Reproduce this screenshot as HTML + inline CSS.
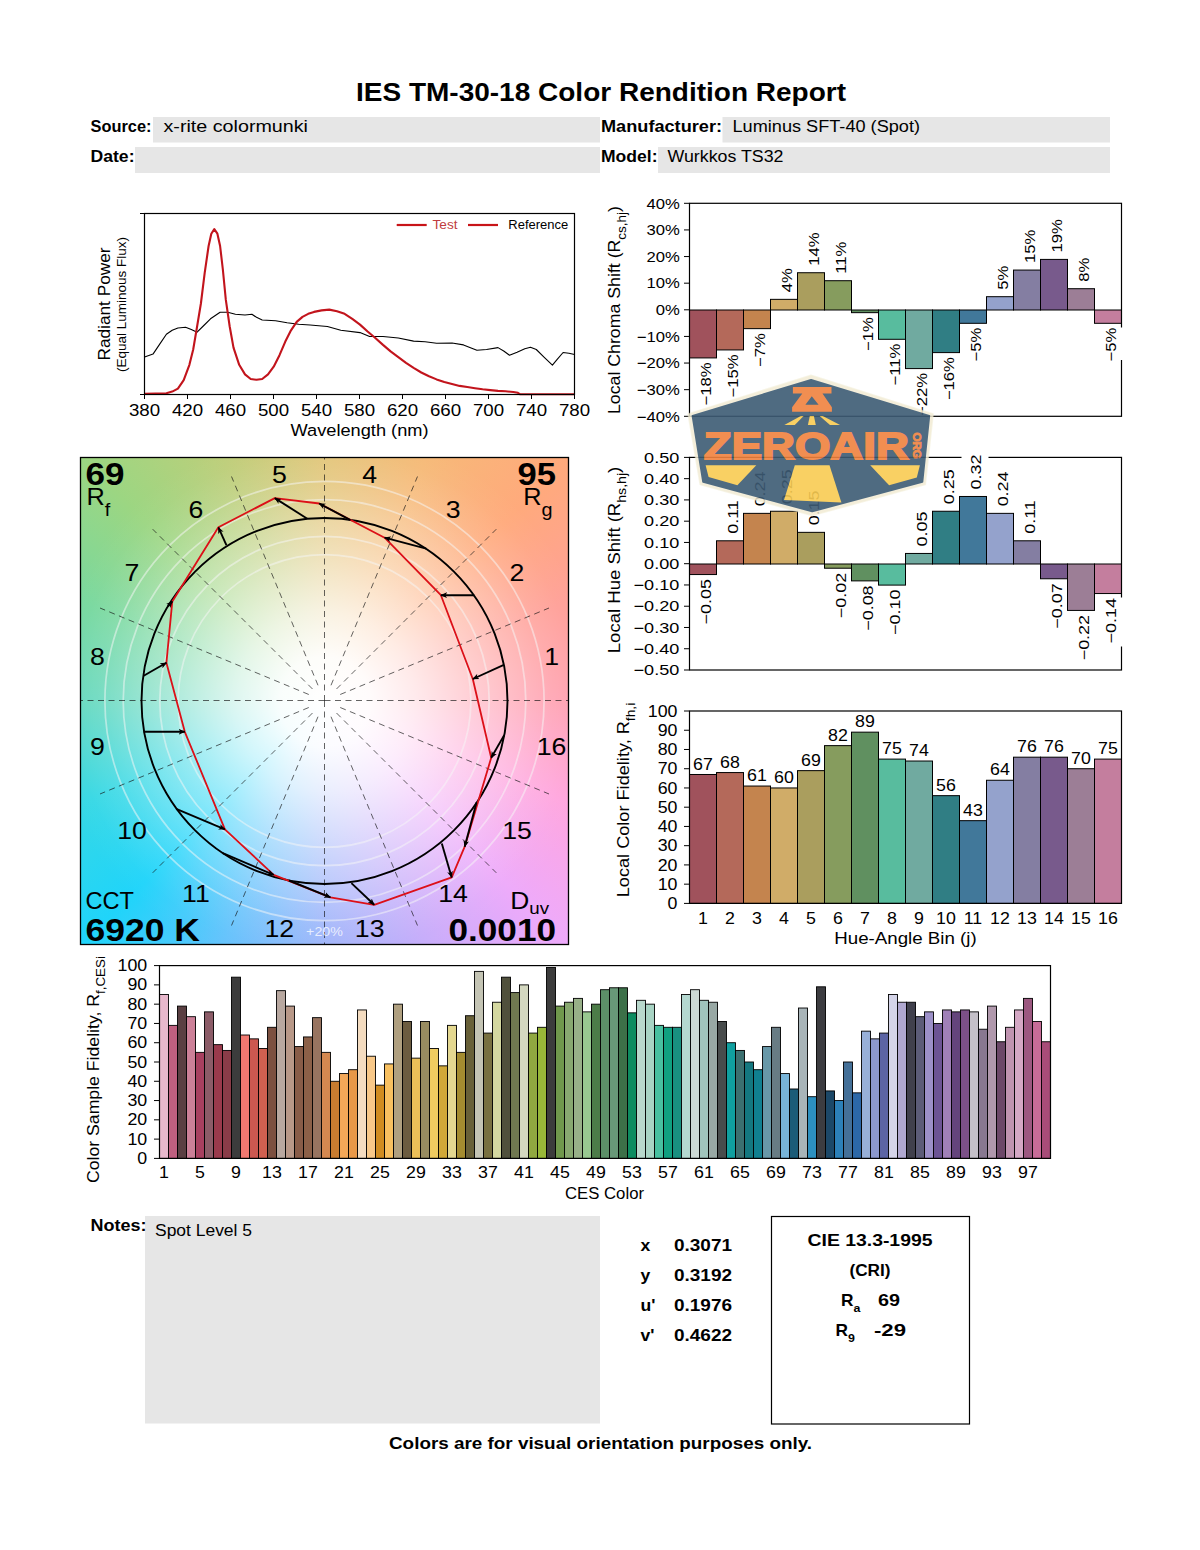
<!DOCTYPE html>
<html><head><meta charset="utf-8"><title>IES TM-30-18 Color Rendition Report</title>
<style>
html,body{margin:0;padding:0;background:#fff;}
body{width:1200px;height:1550px;position:relative;overflow:hidden;font-family:"Liberation Sans",sans-serif;}
#cvgbg{position:absolute;left:80.5px;top:457.5px;width:488px;height:487px;
background:radial-gradient(circle at 50% 50%, rgba(255,255,255,1) 0px, rgba(255,255,255,0.96) 45px, rgba(255,255,255,0.78) 90px, rgba(255,255,255,0.53) 140px, rgba(255,255,255,0.32) 183px, rgba(255,255,255,0.12) 225px, rgba(255,255,255,0.03) 252px, rgba(255,255,255,0) 275px), conic-gradient(from 90deg at 50% 50%, rgb(255,160,176) 0.0deg, rgb(255,166,222) 22.5deg, rgb(238,170,250) 45.0deg, rgb(198,172,250) 67.5deg, rgb(156,178,250) 90.0deg, rgb(100,194,252) 112.5deg, rgb(32,212,250) 135.0deg, rgb(54,216,228) 157.5deg, rgb(100,216,190) 180.0deg, rgb(120,216,158) 202.5deg, rgb(156,214,130) 225.0deg, rgb(190,206,122) 247.5deg, rgb(226,197,120) 270.0deg, rgb(246,186,120) 292.5deg, rgb(255,170,124) 315.0deg, rgb(255,160,152) 337.5deg, rgb(255,160,176) 360.0deg);}
svg{position:absolute;left:0;top:0;}
svg text{font-family:"Liberation Sans",sans-serif;}
</style></head><body>
<div id="cvgbg"></div>
<svg width="1200" height="1550" viewBox="0 0 1200 1550">
<rect x="153.00" y="117.00" width="447.00" height="25.50" fill="#e6e6e6" stroke="none" stroke-width="1"/>
<rect x="135.00" y="147.00" width="465.00" height="26.00" fill="#e6e6e6" stroke="none" stroke-width="1"/>
<rect x="722.50" y="117.00" width="387.50" height="25.50" fill="#e6e6e6" stroke="none" stroke-width="1"/>
<rect x="658.00" y="147.00" width="452.00" height="26.00" fill="#e6e6e6" stroke="none" stroke-width="1"/>
<text transform="translate(601.00,100.80)" font-size="25.2" text-anchor="middle" font-weight="bold" fill="#000" textLength="490" lengthAdjust="spacingAndGlyphs">IES TM-30-18 Color Rendition Report</text>
<text transform="translate(90.50,132.00)" font-size="16.7" text-anchor="start" font-weight="bold" fill="#000" textLength="61" lengthAdjust="spacingAndGlyphs">Source:</text>
<text transform="translate(163.50,132.00)" font-size="16.7" text-anchor="start" font-weight="normal" fill="#000" textLength="144.5" lengthAdjust="spacingAndGlyphs">x-rite colormunki</text>
<text transform="translate(90.50,162.00)" font-size="16.7" text-anchor="start" font-weight="bold" fill="#000" textLength="44" lengthAdjust="spacingAndGlyphs">Date:</text>
<text transform="translate(601.00,132.00)" font-size="16.7" text-anchor="start" font-weight="bold" fill="#000" textLength="121" lengthAdjust="spacingAndGlyphs">Manufacturer:</text>
<text transform="translate(732.50,132.00)" font-size="16.7" text-anchor="start" font-weight="normal" fill="#000" textLength="187.5" lengthAdjust="spacingAndGlyphs">Luminus SFT-40 (Spot)</text>
<text transform="translate(601.00,162.00)" font-size="16.7" text-anchor="start" font-weight="bold" fill="#000" textLength="56.5" lengthAdjust="spacingAndGlyphs">Model:</text>
<text transform="translate(667.50,162.00)" font-size="16.7" text-anchor="start" font-weight="normal" fill="#000" textLength="116" lengthAdjust="spacingAndGlyphs">Wurkkos TS32</text>
<polyline points="144.6,357.1 153.0,354.1 158.7,345.6 166.4,334.2 172.2,330.3 177.9,328.0 185.6,327.3 191.3,329.6 197.1,332.2 202.8,326.5 210.5,318.8 220.1,312.3 227.7,312.3 235.4,314.2 245.0,315.0 251.9,314.2 256.5,317.3 262.2,320.0 275.6,320.7 287.1,322.7 298.6,324.2 310.1,325.0 327.4,326.5 340.8,330.3 360.0,332.6 369.6,336.5 383.0,336.5 398.3,338.0 413.6,341.1 425.1,341.8 436.6,343.3 452.0,343.0 463.5,344.9 471.1,347.9 476.9,350.2 486.5,349.5 498.0,347.6 503.7,351.0 509.5,355.2 517.1,352.2 524.8,348.7 530.5,347.2 536.3,349.5 544.0,357.1 552.4,365.2 557.4,359.1 563.1,352.5 568.9,353.3 574.6,354.5" fill="none" stroke="#000" stroke-width="1.1" stroke-linejoin="round"/>
<polyline points="144.6,393.9 166.4,393.2 172.2,391.6 177.9,388.6 183.7,380.1 189.4,364.8 193.2,349.5 197.1,326.5 200.9,303.5 204.7,272.8 208.6,246.0 211.3,233.7 214.3,229.1 217.4,233.7 220.1,246.0 222.8,269.0 225.8,299.7 229.7,326.5 233.5,347.6 239.2,364.8 245.0,374.4 250.7,379.0 256.5,379.8 262.2,379.0 268.0,374.4 273.7,366.7 279.5,355.2 285.2,341.8 291.0,330.3 296.7,321.9 302.5,316.9 308.2,313.8 314.0,311.9 321.6,310.4 329.3,309.6 337.0,311.2 344.6,313.8 352.3,318.8 360.0,324.6 367.6,331.5 375.3,338.0 383.0,344.9 390.6,351.4 398.3,357.1 406.0,362.9 413.6,367.9 421.3,372.5 429.0,376.3 436.6,379.4 444.3,382.1 452.0,384.0 459.6,385.9 467.3,387.0 475.0,388.2 482.6,389.3 490.3,390.1 498.0,390.9 505.6,391.3 513.3,392.0 517.9,392.8 520.2,394.3 574.6,394.3" fill="none" stroke="#c2141c" stroke-width="2.1" stroke-linejoin="round"/>
<rect x="144.50" y="213.50" width="430.00" height="181.00" fill="none" stroke="#000" stroke-width="1.2"/>
<line x1="144.50" y1="394.50" x2="144.50" y2="399.00" stroke="#000" stroke-width="1"/>
<text transform="translate(144.50,415.80) scale(1.12,1)" font-size="16.7" text-anchor="middle" font-weight="normal" fill="#000">380</text>
<line x1="187.50" y1="394.50" x2="187.50" y2="399.00" stroke="#000" stroke-width="1"/>
<text transform="translate(187.50,415.80) scale(1.12,1)" font-size="16.7" text-anchor="middle" font-weight="normal" fill="#000">420</text>
<line x1="230.50" y1="394.50" x2="230.50" y2="399.00" stroke="#000" stroke-width="1"/>
<text transform="translate(230.50,415.80) scale(1.12,1)" font-size="16.7" text-anchor="middle" font-weight="normal" fill="#000">460</text>
<line x1="273.50" y1="394.50" x2="273.50" y2="399.00" stroke="#000" stroke-width="1"/>
<text transform="translate(273.50,415.80) scale(1.12,1)" font-size="16.7" text-anchor="middle" font-weight="normal" fill="#000">500</text>
<line x1="316.50" y1="394.50" x2="316.50" y2="399.00" stroke="#000" stroke-width="1"/>
<text transform="translate(316.50,415.80) scale(1.12,1)" font-size="16.7" text-anchor="middle" font-weight="normal" fill="#000">540</text>
<line x1="359.50" y1="394.50" x2="359.50" y2="399.00" stroke="#000" stroke-width="1"/>
<text transform="translate(359.50,415.80) scale(1.12,1)" font-size="16.7" text-anchor="middle" font-weight="normal" fill="#000">580</text>
<line x1="402.50" y1="394.50" x2="402.50" y2="399.00" stroke="#000" stroke-width="1"/>
<text transform="translate(402.50,415.80) scale(1.12,1)" font-size="16.7" text-anchor="middle" font-weight="normal" fill="#000">620</text>
<line x1="445.50" y1="394.50" x2="445.50" y2="399.00" stroke="#000" stroke-width="1"/>
<text transform="translate(445.50,415.80) scale(1.12,1)" font-size="16.7" text-anchor="middle" font-weight="normal" fill="#000">660</text>
<line x1="488.50" y1="394.50" x2="488.50" y2="399.00" stroke="#000" stroke-width="1"/>
<text transform="translate(488.50,415.80) scale(1.12,1)" font-size="16.7" text-anchor="middle" font-weight="normal" fill="#000">700</text>
<line x1="531.50" y1="394.50" x2="531.50" y2="399.00" stroke="#000" stroke-width="1"/>
<text transform="translate(531.50,415.80) scale(1.12,1)" font-size="16.7" text-anchor="middle" font-weight="normal" fill="#000">740</text>
<line x1="574.50" y1="394.50" x2="574.50" y2="399.00" stroke="#000" stroke-width="1"/>
<text transform="translate(574.50,415.80) scale(1.12,1)" font-size="16.7" text-anchor="middle" font-weight="normal" fill="#000">780</text>
<line x1="140.00" y1="213.50" x2="144.50" y2="213.50" stroke="#000" stroke-width="1"/>
<line x1="140.00" y1="394.50" x2="144.50" y2="394.50" stroke="#000" stroke-width="1"/>
<text transform="translate(359.50,436.00)" font-size="16.7" text-anchor="middle" font-weight="normal" fill="#000" textLength="138" lengthAdjust="spacingAndGlyphs">Wavelength (nm)</text>
<text transform="translate(110.30,304.00) rotate(-90)" font-size="16.7" text-anchor="middle" font-weight="normal" fill="#000" textLength="113" lengthAdjust="spacingAndGlyphs">Radiant Power</text>
<text transform="translate(126.00,304.50) rotate(-90)" font-size="12.5" text-anchor="middle" font-weight="normal" fill="#000" textLength="135" lengthAdjust="spacingAndGlyphs">(Equal Luminous Flux)</text>
<line x1="396.70" y1="225.00" x2="426.70" y2="225.00" stroke="#c81418" stroke-width="2.2"/>
<line x1="468.00" y1="225.00" x2="498.00" y2="225.00" stroke="#c81418" stroke-width="2.2"/>
<text transform="translate(432.50,228.80)" font-size="12.5" text-anchor="start" font-weight="normal" fill="#c03c40" textLength="25" lengthAdjust="spacingAndGlyphs">Test</text>
<text transform="translate(508.30,228.80)" font-size="12.5" text-anchor="start" font-weight="normal" fill="#000" textLength="60" lengthAdjust="spacingAndGlyphs">Reference</text>
<rect x="689.50" y="310.00" width="27.00" height="47.92" fill="#a0525c" stroke="#000" stroke-width="1"/>
<rect x="716.50" y="310.00" width="27.00" height="39.94" fill="#b4695a" stroke="#000" stroke-width="1"/>
<rect x="743.50" y="310.00" width="27.00" height="18.64" fill="#c4844e" stroke="#000" stroke-width="1"/>
<rect x="770.50" y="299.35" width="27.00" height="10.65" fill="#d0ac68" stroke="#000" stroke-width="1"/>
<rect x="797.50" y="272.73" width="27.00" height="37.27" fill="#aa9e5e" stroke="#000" stroke-width="1"/>
<rect x="824.50" y="280.71" width="27.00" height="29.29" fill="#869c5e" stroke="#000" stroke-width="1"/>
<rect x="851.50" y="310.00" width="27.00" height="2.66" fill="#609060" stroke="#000" stroke-width="1"/>
<rect x="878.50" y="310.00" width="27.00" height="29.29" fill="#58bc9e" stroke="#000" stroke-width="1"/>
<rect x="905.50" y="310.00" width="27.00" height="58.58" fill="#70aaa0" stroke="#000" stroke-width="1"/>
<rect x="932.50" y="310.00" width="27.00" height="42.60" fill="#307e84" stroke="#000" stroke-width="1"/>
<rect x="959.50" y="310.00" width="27.00" height="13.31" fill="#41789a" stroke="#000" stroke-width="1"/>
<rect x="986.50" y="296.69" width="27.00" height="13.31" fill="#94a2cc" stroke="#000" stroke-width="1"/>
<rect x="1013.50" y="270.06" width="27.00" height="39.94" fill="#847ea2" stroke="#000" stroke-width="1"/>
<rect x="1040.50" y="259.41" width="27.00" height="50.59" fill="#785a8c" stroke="#000" stroke-width="1"/>
<rect x="1067.50" y="288.70" width="27.00" height="21.30" fill="#9c7e96" stroke="#000" stroke-width="1"/>
<rect x="1094.50" y="310.00" width="27.00" height="13.31" fill="#c47e9e" stroke="#000" stroke-width="1"/>
<rect x="689.50" y="203.30" width="432.00" height="213.00" fill="none" stroke="#000" stroke-width="1.2"/>
<rect x="1119.50" y="327.50" width="4.00" height="32.50" fill="#fff" stroke="none" stroke-width="1"/>
<line x1="684.00" y1="203.30" x2="689.50" y2="203.30" stroke="#000" stroke-width="1"/>
<text transform="translate(679.80,208.50) scale(1.14,1)" font-size="14.6" text-anchor="end" font-weight="normal" fill="#000">40%</text>
<line x1="684.00" y1="229.93" x2="689.50" y2="229.93" stroke="#000" stroke-width="1"/>
<text transform="translate(679.80,235.12) scale(1.14,1)" font-size="14.6" text-anchor="end" font-weight="normal" fill="#000">30%</text>
<line x1="684.00" y1="256.55" x2="689.50" y2="256.55" stroke="#000" stroke-width="1"/>
<text transform="translate(679.80,261.75) scale(1.14,1)" font-size="14.6" text-anchor="end" font-weight="normal" fill="#000">20%</text>
<line x1="684.00" y1="283.18" x2="689.50" y2="283.18" stroke="#000" stroke-width="1"/>
<text transform="translate(679.80,288.38) scale(1.14,1)" font-size="14.6" text-anchor="end" font-weight="normal" fill="#000">10%</text>
<line x1="684.00" y1="309.80" x2="689.50" y2="309.80" stroke="#000" stroke-width="1"/>
<text transform="translate(679.80,315.00) scale(1.14,1)" font-size="14.6" text-anchor="end" font-weight="normal" fill="#000">0%</text>
<line x1="684.00" y1="336.43" x2="689.50" y2="336.43" stroke="#000" stroke-width="1"/>
<text transform="translate(679.80,341.62) scale(1.14,1)" font-size="14.6" text-anchor="end" font-weight="normal" fill="#000">−10%</text>
<line x1="684.00" y1="363.05" x2="689.50" y2="363.05" stroke="#000" stroke-width="1"/>
<text transform="translate(679.80,368.25) scale(1.14,1)" font-size="14.6" text-anchor="end" font-weight="normal" fill="#000">−20%</text>
<line x1="684.00" y1="389.68" x2="689.50" y2="389.68" stroke="#000" stroke-width="1"/>
<text transform="translate(679.80,394.88) scale(1.14,1)" font-size="14.6" text-anchor="end" font-weight="normal" fill="#000">−30%</text>
<line x1="684.00" y1="416.30" x2="689.50" y2="416.30" stroke="#000" stroke-width="1"/>
<text transform="translate(679.80,421.50) scale(1.14,1)" font-size="14.6" text-anchor="end" font-weight="normal" fill="#000">−40%</text>
<rect x="697.80" y="361.43" width="16.00" height="35.80" fill="#fff" stroke="none" stroke-width="1"/>
<text transform="translate(710.80,362.43) rotate(-90) scale(1.14,1)" font-size="14.6" text-anchor="end" font-weight="normal" fill="#000">−18%</text>
<rect x="724.80" y="353.44" width="16.00" height="35.80" fill="#fff" stroke="none" stroke-width="1"/>
<text transform="translate(737.80,354.44) rotate(-90) scale(1.14,1)" font-size="14.6" text-anchor="end" font-weight="normal" fill="#000">−15%</text>
<rect x="751.80" y="332.14" width="16.00" height="27.60" fill="#fff" stroke="none" stroke-width="1"/>
<text transform="translate(764.80,333.14) rotate(-90) scale(1.14,1)" font-size="14.6" text-anchor="end" font-weight="normal" fill="#000">−7%</text>
<rect x="778.80" y="273.95" width="16.00" height="20.40" fill="#fff" stroke="none" stroke-width="1"/>
<text transform="translate(791.80,292.35) rotate(-90) scale(1.14,1)" font-size="14.6" text-anchor="start" font-weight="normal" fill="#000">4%</text>
<rect x="805.80" y="239.13" width="16.00" height="28.60" fill="#fff" stroke="none" stroke-width="1"/>
<text transform="translate(818.80,265.73) rotate(-90) scale(1.14,1)" font-size="14.6" text-anchor="start" font-weight="normal" fill="#000">14%</text>
<rect x="832.80" y="247.11" width="16.00" height="28.60" fill="#fff" stroke="none" stroke-width="1"/>
<text transform="translate(845.80,273.71) rotate(-90) scale(1.14,1)" font-size="14.6" text-anchor="start" font-weight="normal" fill="#000">11%</text>
<rect x="859.80" y="316.16" width="16.00" height="27.60" fill="#fff" stroke="none" stroke-width="1"/>
<text transform="translate(872.80,317.16) rotate(-90) scale(1.14,1)" font-size="14.6" text-anchor="end" font-weight="normal" fill="#000">−1%</text>
<rect x="886.80" y="342.79" width="16.00" height="35.80" fill="#fff" stroke="none" stroke-width="1"/>
<text transform="translate(899.80,343.79) rotate(-90) scale(1.14,1)" font-size="14.6" text-anchor="end" font-weight="normal" fill="#000">−11%</text>
<rect x="913.80" y="372.07" width="16.00" height="35.80" fill="#fff" stroke="none" stroke-width="1"/>
<text transform="translate(926.80,373.07) rotate(-90) scale(1.14,1)" font-size="14.6" text-anchor="end" font-weight="normal" fill="#000">−22%</text>
<rect x="940.80" y="356.10" width="16.00" height="35.80" fill="#fff" stroke="none" stroke-width="1"/>
<text transform="translate(953.80,357.10) rotate(-90) scale(1.14,1)" font-size="14.6" text-anchor="end" font-weight="normal" fill="#000">−16%</text>
<rect x="967.80" y="326.81" width="16.00" height="27.60" fill="#fff" stroke="none" stroke-width="1"/>
<text transform="translate(980.80,327.81) rotate(-90) scale(1.14,1)" font-size="14.6" text-anchor="end" font-weight="normal" fill="#000">−5%</text>
<rect x="994.80" y="271.29" width="16.00" height="20.40" fill="#fff" stroke="none" stroke-width="1"/>
<text transform="translate(1007.80,289.69) rotate(-90) scale(1.14,1)" font-size="14.6" text-anchor="start" font-weight="normal" fill="#000">5%</text>
<rect x="1021.80" y="236.46" width="16.00" height="28.60" fill="#fff" stroke="none" stroke-width="1"/>
<text transform="translate(1034.80,263.06) rotate(-90) scale(1.14,1)" font-size="14.6" text-anchor="start" font-weight="normal" fill="#000">15%</text>
<rect x="1048.80" y="225.81" width="16.00" height="28.60" fill="#fff" stroke="none" stroke-width="1"/>
<text transform="translate(1061.80,252.41) rotate(-90) scale(1.14,1)" font-size="14.6" text-anchor="start" font-weight="normal" fill="#000">19%</text>
<rect x="1075.80" y="263.30" width="16.00" height="20.40" fill="#fff" stroke="none" stroke-width="1"/>
<text transform="translate(1088.80,281.70) rotate(-90) scale(1.14,1)" font-size="14.6" text-anchor="start" font-weight="normal" fill="#000">8%</text>
<rect x="1102.80" y="326.81" width="16.00" height="27.60" fill="#fff" stroke="none" stroke-width="1"/>
<text transform="translate(1115.80,327.81) rotate(-90) scale(1.14,1)" font-size="14.6" text-anchor="end" font-weight="normal" fill="#000">−5%</text>
<text transform="translate(620.00,310.00) rotate(-90)" font-size="16.7" text-anchor="middle" font-weight="normal" fill="#000" textLength="208" lengthAdjust="spacingAndGlyphs">Local Chroma Shift (R<tspan font-size="12.7" dy="6.0">cs,hj</tspan><tspan dy="-6.0">)</tspan></text>
<rect x="689.50" y="564.00" width="27.00" height="10.55" fill="#a0525c" stroke="#000" stroke-width="1"/>
<rect x="716.50" y="540.79" width="27.00" height="23.21" fill="#b4695a" stroke="#000" stroke-width="1"/>
<rect x="743.50" y="513.36" width="27.00" height="50.64" fill="#c4844e" stroke="#000" stroke-width="1"/>
<rect x="770.50" y="511.25" width="27.00" height="52.75" fill="#d0ac68" stroke="#000" stroke-width="1"/>
<rect x="797.50" y="532.35" width="27.00" height="31.65" fill="#aa9e5e" stroke="#000" stroke-width="1"/>
<rect x="824.50" y="564.00" width="27.00" height="4.22" fill="#869c5e" stroke="#000" stroke-width="1"/>
<rect x="851.50" y="564.00" width="27.00" height="16.88" fill="#609060" stroke="#000" stroke-width="1"/>
<rect x="878.50" y="564.00" width="27.00" height="21.10" fill="#58bc9e" stroke="#000" stroke-width="1"/>
<rect x="905.50" y="553.45" width="27.00" height="10.55" fill="#70aaa0" stroke="#000" stroke-width="1"/>
<rect x="932.50" y="511.25" width="27.00" height="52.75" fill="#307e84" stroke="#000" stroke-width="1"/>
<rect x="959.50" y="496.48" width="27.00" height="67.52" fill="#41789a" stroke="#000" stroke-width="1"/>
<rect x="986.50" y="513.36" width="27.00" height="50.64" fill="#94a2cc" stroke="#000" stroke-width="1"/>
<rect x="1013.50" y="540.79" width="27.00" height="23.21" fill="#847ea2" stroke="#000" stroke-width="1"/>
<rect x="1040.50" y="564.00" width="27.00" height="14.77" fill="#785a8c" stroke="#000" stroke-width="1"/>
<rect x="1067.50" y="564.00" width="27.00" height="46.42" fill="#9c7e96" stroke="#000" stroke-width="1"/>
<rect x="1094.50" y="564.00" width="27.00" height="29.54" fill="#c47e9e" stroke="#000" stroke-width="1"/>
<rect x="689.50" y="457.40" width="432.00" height="212.60" fill="none" stroke="#000" stroke-width="1.2"/>
<rect x="1119.50" y="597.50" width="4.00" height="49.00" fill="#fff" stroke="none" stroke-width="1"/>
<rect x="961.50" y="455.00" width="27.00" height="4.00" fill="#fff" stroke="none" stroke-width="1"/>
<line x1="684.00" y1="457.40" x2="689.50" y2="457.40" stroke="#000" stroke-width="1"/>
<text transform="translate(679.30,462.60) scale(1.24,1)" font-size="14.6" text-anchor="end" font-weight="normal" fill="#000">0.50</text>
<line x1="684.00" y1="478.66" x2="689.50" y2="478.66" stroke="#000" stroke-width="1"/>
<text transform="translate(679.30,483.86) scale(1.24,1)" font-size="14.6" text-anchor="end" font-weight="normal" fill="#000">0.40</text>
<line x1="684.00" y1="499.92" x2="689.50" y2="499.92" stroke="#000" stroke-width="1"/>
<text transform="translate(679.30,505.12) scale(1.24,1)" font-size="14.6" text-anchor="end" font-weight="normal" fill="#000">0.30</text>
<line x1="684.00" y1="521.18" x2="689.50" y2="521.18" stroke="#000" stroke-width="1"/>
<text transform="translate(679.30,526.38) scale(1.24,1)" font-size="14.6" text-anchor="end" font-weight="normal" fill="#000">0.20</text>
<line x1="684.00" y1="542.44" x2="689.50" y2="542.44" stroke="#000" stroke-width="1"/>
<text transform="translate(679.30,547.64) scale(1.24,1)" font-size="14.6" text-anchor="end" font-weight="normal" fill="#000">0.10</text>
<line x1="684.00" y1="563.70" x2="689.50" y2="563.70" stroke="#000" stroke-width="1"/>
<text transform="translate(679.30,568.90) scale(1.24,1)" font-size="14.6" text-anchor="end" font-weight="normal" fill="#000">0.00</text>
<line x1="684.00" y1="584.96" x2="689.50" y2="584.96" stroke="#000" stroke-width="1"/>
<text transform="translate(679.30,590.16) scale(1.24,1)" font-size="14.6" text-anchor="end" font-weight="normal" fill="#000">−0.10</text>
<line x1="684.00" y1="606.22" x2="689.50" y2="606.22" stroke="#000" stroke-width="1"/>
<text transform="translate(679.30,611.42) scale(1.24,1)" font-size="14.6" text-anchor="end" font-weight="normal" fill="#000">−0.20</text>
<line x1="684.00" y1="627.48" x2="689.50" y2="627.48" stroke="#000" stroke-width="1"/>
<text transform="translate(679.30,632.68) scale(1.24,1)" font-size="14.6" text-anchor="end" font-weight="normal" fill="#000">−0.30</text>
<line x1="684.00" y1="648.74" x2="689.50" y2="648.74" stroke="#000" stroke-width="1"/>
<text transform="translate(679.30,653.94) scale(1.24,1)" font-size="14.6" text-anchor="end" font-weight="normal" fill="#000">−0.40</text>
<line x1="684.00" y1="670.00" x2="689.50" y2="670.00" stroke="#000" stroke-width="1"/>
<text transform="translate(679.30,675.20) scale(1.24,1)" font-size="14.6" text-anchor="end" font-weight="normal" fill="#000">−0.50</text>
<rect x="697.80" y="578.05" width="16.00" height="47.24" fill="#fff" stroke="none" stroke-width="1"/>
<text transform="translate(710.80,579.05) rotate(-90) scale(1.23,1)" font-size="14.6" text-anchor="end" font-weight="normal" fill="#000">−0.05</text>
<rect x="724.80" y="496.40" width="16.00" height="39.39" fill="#fff" stroke="none" stroke-width="1"/>
<text transform="translate(737.80,533.79) rotate(-90) scale(1.23,1)" font-size="14.6" text-anchor="start" font-weight="normal" fill="#000">0.11</text>
<rect x="751.80" y="468.97" width="16.00" height="39.39" fill="#fff" stroke="none" stroke-width="1"/>
<text transform="translate(764.80,506.36) rotate(-90) scale(1.23,1)" font-size="14.6" text-anchor="start" font-weight="normal" fill="#000">0.24</text>
<rect x="778.80" y="466.86" width="16.00" height="39.39" fill="#fff" stroke="none" stroke-width="1"/>
<text transform="translate(791.80,504.25) rotate(-90) scale(1.23,1)" font-size="14.6" text-anchor="start" font-weight="normal" fill="#000">0.25</text>
<rect x="805.80" y="487.96" width="16.00" height="39.39" fill="#fff" stroke="none" stroke-width="1"/>
<text transform="translate(818.80,525.35) rotate(-90) scale(1.23,1)" font-size="14.6" text-anchor="start" font-weight="normal" fill="#000">0.15</text>
<rect x="832.80" y="571.72" width="16.00" height="47.24" fill="#fff" stroke="none" stroke-width="1"/>
<text transform="translate(845.80,572.72) rotate(-90) scale(1.23,1)" font-size="14.6" text-anchor="end" font-weight="normal" fill="#000">−0.02</text>
<rect x="859.80" y="584.38" width="16.00" height="47.24" fill="#fff" stroke="none" stroke-width="1"/>
<text transform="translate(872.80,585.38) rotate(-90) scale(1.23,1)" font-size="14.6" text-anchor="end" font-weight="normal" fill="#000">−0.08</text>
<rect x="886.80" y="588.60" width="16.00" height="47.24" fill="#fff" stroke="none" stroke-width="1"/>
<text transform="translate(899.80,589.60) rotate(-90) scale(1.23,1)" font-size="14.6" text-anchor="end" font-weight="normal" fill="#000">−0.10</text>
<rect x="913.80" y="509.06" width="16.00" height="39.39" fill="#fff" stroke="none" stroke-width="1"/>
<text transform="translate(926.80,546.45) rotate(-90) scale(1.23,1)" font-size="14.6" text-anchor="start" font-weight="normal" fill="#000">0.05</text>
<rect x="940.80" y="466.86" width="16.00" height="39.39" fill="#fff" stroke="none" stroke-width="1"/>
<text transform="translate(953.80,504.25) rotate(-90) scale(1.23,1)" font-size="14.6" text-anchor="start" font-weight="normal" fill="#000">0.25</text>
<rect x="967.80" y="452.09" width="16.00" height="39.39" fill="#fff" stroke="none" stroke-width="1"/>
<text transform="translate(980.80,489.48) rotate(-90) scale(1.23,1)" font-size="14.6" text-anchor="start" font-weight="normal" fill="#000">0.32</text>
<rect x="994.80" y="468.97" width="16.00" height="39.39" fill="#fff" stroke="none" stroke-width="1"/>
<text transform="translate(1007.80,506.36) rotate(-90) scale(1.23,1)" font-size="14.6" text-anchor="start" font-weight="normal" fill="#000">0.24</text>
<rect x="1021.80" y="496.40" width="16.00" height="39.39" fill="#fff" stroke="none" stroke-width="1"/>
<text transform="translate(1034.80,533.79) rotate(-90) scale(1.23,1)" font-size="14.6" text-anchor="start" font-weight="normal" fill="#000">0.11</text>
<rect x="1048.80" y="582.27" width="16.00" height="47.24" fill="#fff" stroke="none" stroke-width="1"/>
<text transform="translate(1061.80,583.27) rotate(-90) scale(1.23,1)" font-size="14.6" text-anchor="end" font-weight="normal" fill="#000">−0.07</text>
<rect x="1075.80" y="613.92" width="16.00" height="47.24" fill="#fff" stroke="none" stroke-width="1"/>
<text transform="translate(1088.80,614.92) rotate(-90) scale(1.23,1)" font-size="14.6" text-anchor="end" font-weight="normal" fill="#000">−0.22</text>
<rect x="1102.80" y="597.04" width="16.00" height="47.24" fill="#fff" stroke="none" stroke-width="1"/>
<text transform="translate(1115.80,598.04) rotate(-90) scale(1.23,1)" font-size="14.6" text-anchor="end" font-weight="normal" fill="#000">−0.14</text>
<text transform="translate(620.00,560.00) rotate(-90)" font-size="16.7" text-anchor="middle" font-weight="normal" fill="#000" textLength="186.5" lengthAdjust="spacingAndGlyphs">Local Hue Shift (R<tspan font-size="12.7" dy="6.0">hs,hj</tspan><tspan dy="-6.0">)</tspan></text>
<rect x="689.50" y="774.49" width="27.00" height="128.91" fill="#a0525c" stroke="#000" stroke-width="1"/>
<text transform="translate(703.00,769.69) scale(1.14,1)" font-size="15.6" text-anchor="middle" font-weight="normal" fill="#000">67</text>
<text transform="translate(703.00,923.60) scale(1.14,1)" font-size="15.6" text-anchor="middle" font-weight="normal" fill="#000">1</text>
<rect x="716.50" y="772.57" width="27.00" height="130.83" fill="#b4695a" stroke="#000" stroke-width="1"/>
<text transform="translate(730.00,767.77) scale(1.14,1)" font-size="15.6" text-anchor="middle" font-weight="normal" fill="#000">68</text>
<text transform="translate(730.00,923.60) scale(1.14,1)" font-size="15.6" text-anchor="middle" font-weight="normal" fill="#000">2</text>
<rect x="743.50" y="786.04" width="27.00" height="117.36" fill="#c4844e" stroke="#000" stroke-width="1"/>
<text transform="translate(757.00,781.24) scale(1.14,1)" font-size="15.6" text-anchor="middle" font-weight="normal" fill="#000">61</text>
<text transform="translate(757.00,923.60) scale(1.14,1)" font-size="15.6" text-anchor="middle" font-weight="normal" fill="#000">3</text>
<rect x="770.50" y="787.96" width="27.00" height="115.44" fill="#d0ac68" stroke="#000" stroke-width="1"/>
<text transform="translate(784.00,783.16) scale(1.14,1)" font-size="15.6" text-anchor="middle" font-weight="normal" fill="#000">60</text>
<text transform="translate(784.00,923.60) scale(1.14,1)" font-size="15.6" text-anchor="middle" font-weight="normal" fill="#000">4</text>
<rect x="797.50" y="770.64" width="27.00" height="132.76" fill="#aa9e5e" stroke="#000" stroke-width="1"/>
<text transform="translate(811.00,765.84) scale(1.14,1)" font-size="15.6" text-anchor="middle" font-weight="normal" fill="#000">69</text>
<text transform="translate(811.00,923.60) scale(1.14,1)" font-size="15.6" text-anchor="middle" font-weight="normal" fill="#000">5</text>
<rect x="824.50" y="745.63" width="27.00" height="157.77" fill="#869c5e" stroke="#000" stroke-width="1"/>
<text transform="translate(838.00,740.83) scale(1.14,1)" font-size="15.6" text-anchor="middle" font-weight="normal" fill="#000">82</text>
<text transform="translate(838.00,923.60) scale(1.14,1)" font-size="15.6" text-anchor="middle" font-weight="normal" fill="#000">6</text>
<rect x="851.50" y="732.16" width="27.00" height="171.24" fill="#609060" stroke="#000" stroke-width="1"/>
<text transform="translate(865.00,727.36) scale(1.14,1)" font-size="15.6" text-anchor="middle" font-weight="normal" fill="#000">89</text>
<text transform="translate(865.00,923.60) scale(1.14,1)" font-size="15.6" text-anchor="middle" font-weight="normal" fill="#000">7</text>
<rect x="878.50" y="759.10" width="27.00" height="144.30" fill="#58bc9e" stroke="#000" stroke-width="1"/>
<text transform="translate(892.00,754.30) scale(1.14,1)" font-size="15.6" text-anchor="middle" font-weight="normal" fill="#000">75</text>
<text transform="translate(892.00,923.60) scale(1.14,1)" font-size="15.6" text-anchor="middle" font-weight="normal" fill="#000">8</text>
<rect x="905.50" y="761.02" width="27.00" height="142.38" fill="#70aaa0" stroke="#000" stroke-width="1"/>
<text transform="translate(919.00,756.22) scale(1.14,1)" font-size="15.6" text-anchor="middle" font-weight="normal" fill="#000">74</text>
<text transform="translate(919.00,923.60) scale(1.14,1)" font-size="15.6" text-anchor="middle" font-weight="normal" fill="#000">9</text>
<rect x="932.50" y="795.66" width="27.00" height="107.74" fill="#307e84" stroke="#000" stroke-width="1"/>
<text transform="translate(946.00,790.86) scale(1.14,1)" font-size="15.6" text-anchor="middle" font-weight="normal" fill="#000">56</text>
<text transform="translate(946.00,923.60) scale(1.14,1)" font-size="15.6" text-anchor="middle" font-weight="normal" fill="#000">10</text>
<rect x="959.50" y="820.67" width="27.00" height="82.73" fill="#41789a" stroke="#000" stroke-width="1"/>
<text transform="translate(973.00,815.87) scale(1.14,1)" font-size="15.6" text-anchor="middle" font-weight="normal" fill="#000">43</text>
<text transform="translate(973.00,923.60) scale(1.14,1)" font-size="15.6" text-anchor="middle" font-weight="normal" fill="#000">11</text>
<rect x="986.50" y="780.26" width="27.00" height="123.14" fill="#94a2cc" stroke="#000" stroke-width="1"/>
<text transform="translate(1000.00,775.46) scale(1.14,1)" font-size="15.6" text-anchor="middle" font-weight="normal" fill="#000">64</text>
<text transform="translate(1000.00,923.60) scale(1.14,1)" font-size="15.6" text-anchor="middle" font-weight="normal" fill="#000">12</text>
<rect x="1013.50" y="757.18" width="27.00" height="146.22" fill="#847ea2" stroke="#000" stroke-width="1"/>
<text transform="translate(1027.00,752.38) scale(1.14,1)" font-size="15.6" text-anchor="middle" font-weight="normal" fill="#000">76</text>
<text transform="translate(1027.00,923.60) scale(1.14,1)" font-size="15.6" text-anchor="middle" font-weight="normal" fill="#000">13</text>
<rect x="1040.50" y="757.18" width="27.00" height="146.22" fill="#785a8c" stroke="#000" stroke-width="1"/>
<text transform="translate(1054.00,752.38) scale(1.14,1)" font-size="15.6" text-anchor="middle" font-weight="normal" fill="#000">76</text>
<text transform="translate(1054.00,923.60) scale(1.14,1)" font-size="15.6" text-anchor="middle" font-weight="normal" fill="#000">14</text>
<rect x="1067.50" y="768.72" width="27.00" height="134.68" fill="#9c7e96" stroke="#000" stroke-width="1"/>
<text transform="translate(1081.00,763.92) scale(1.14,1)" font-size="15.6" text-anchor="middle" font-weight="normal" fill="#000">70</text>
<text transform="translate(1081.00,923.60) scale(1.14,1)" font-size="15.6" text-anchor="middle" font-weight="normal" fill="#000">15</text>
<rect x="1094.50" y="759.10" width="27.00" height="144.30" fill="#c47e9e" stroke="#000" stroke-width="1"/>
<text transform="translate(1108.00,754.30) scale(1.14,1)" font-size="15.6" text-anchor="middle" font-weight="normal" fill="#000">75</text>
<text transform="translate(1108.00,923.60) scale(1.14,1)" font-size="15.6" text-anchor="middle" font-weight="normal" fill="#000">16</text>
<rect x="689.50" y="711.00" width="432.00" height="192.40" fill="none" stroke="#000" stroke-width="1.2"/>
<line x1="684.00" y1="903.40" x2="689.50" y2="903.40" stroke="#000" stroke-width="1"/>
<text transform="translate(677.50,909.00) scale(1.14,1)" font-size="15.6" text-anchor="end" font-weight="normal" fill="#000">0</text>
<line x1="684.00" y1="884.16" x2="689.50" y2="884.16" stroke="#000" stroke-width="1"/>
<text transform="translate(677.50,889.76) scale(1.14,1)" font-size="15.6" text-anchor="end" font-weight="normal" fill="#000">10</text>
<line x1="684.00" y1="864.92" x2="689.50" y2="864.92" stroke="#000" stroke-width="1"/>
<text transform="translate(677.50,870.52) scale(1.14,1)" font-size="15.6" text-anchor="end" font-weight="normal" fill="#000">20</text>
<line x1="684.00" y1="845.68" x2="689.50" y2="845.68" stroke="#000" stroke-width="1"/>
<text transform="translate(677.50,851.28) scale(1.14,1)" font-size="15.6" text-anchor="end" font-weight="normal" fill="#000">30</text>
<line x1="684.00" y1="826.44" x2="689.50" y2="826.44" stroke="#000" stroke-width="1"/>
<text transform="translate(677.50,832.04) scale(1.14,1)" font-size="15.6" text-anchor="end" font-weight="normal" fill="#000">40</text>
<line x1="684.00" y1="807.20" x2="689.50" y2="807.20" stroke="#000" stroke-width="1"/>
<text transform="translate(677.50,812.80) scale(1.14,1)" font-size="15.6" text-anchor="end" font-weight="normal" fill="#000">50</text>
<line x1="684.00" y1="787.96" x2="689.50" y2="787.96" stroke="#000" stroke-width="1"/>
<text transform="translate(677.50,793.56) scale(1.14,1)" font-size="15.6" text-anchor="end" font-weight="normal" fill="#000">60</text>
<line x1="684.00" y1="768.72" x2="689.50" y2="768.72" stroke="#000" stroke-width="1"/>
<text transform="translate(677.50,774.32) scale(1.14,1)" font-size="15.6" text-anchor="end" font-weight="normal" fill="#000">70</text>
<line x1="684.00" y1="749.48" x2="689.50" y2="749.48" stroke="#000" stroke-width="1"/>
<text transform="translate(677.50,755.08) scale(1.14,1)" font-size="15.6" text-anchor="end" font-weight="normal" fill="#000">80</text>
<line x1="684.00" y1="730.24" x2="689.50" y2="730.24" stroke="#000" stroke-width="1"/>
<text transform="translate(677.50,735.84) scale(1.14,1)" font-size="15.6" text-anchor="end" font-weight="normal" fill="#000">90</text>
<line x1="684.00" y1="711.00" x2="689.50" y2="711.00" stroke="#000" stroke-width="1"/>
<text transform="translate(677.50,716.60) scale(1.14,1)" font-size="15.6" text-anchor="end" font-weight="normal" fill="#000">100</text>
<text transform="translate(905.50,944.00)" font-size="16.7" text-anchor="middle" font-weight="normal" fill="#000" textLength="142.5" lengthAdjust="spacingAndGlyphs">Hue-Angle Bin (j)</text>
<text transform="translate(629.00,800.00) rotate(-90)" font-size="16.7" text-anchor="middle" font-weight="normal" fill="#000" textLength="194.5" lengthAdjust="spacingAndGlyphs">Local Color Fidelity, R<tspan font-size="12.7" dy="6.0">fh,i</tspan></text>
<clipPath id="cvgclip"><rect x="80.5" y="457.5" width="488.0" height="487.0"/></clipPath>
<g clip-path="url(#cvgclip)">
<circle cx="324.5" cy="701.0" r="146.4" fill="none" stroke="#f6f6f6" stroke-opacity="0.52" stroke-width="1.7"/>
<circle cx="324.5" cy="701.0" r="164.7" fill="none" stroke="#f6f6f6" stroke-opacity="0.52" stroke-width="1.7"/>
<circle cx="324.5" cy="701.0" r="201.3" fill="none" stroke="#f6f6f6" stroke-opacity="0.52" stroke-width="1.7"/>
<circle cx="324.5" cy="701.0" r="219.6" fill="none" stroke="#f6f6f6" stroke-opacity="0.52" stroke-width="1.7"/>
<line x1="324.50" y1="700.50" x2="570.50" y2="700.50" stroke="#111" stroke-width="0.8" stroke-dasharray="6,4.5" stroke-opacity="0.82"/>
<line x1="340.21" y1="694.49" x2="549.00" y2="608.01" stroke="#111" stroke-width="0.8" stroke-dasharray="6,4.5" stroke-opacity="0.82"/>
<line x1="336.52" y1="688.98" x2="496.33" y2="529.17" stroke="#111" stroke-width="0.8" stroke-dasharray="6,4.5" stroke-opacity="0.82"/>
<line x1="331.01" y1="685.29" x2="417.49" y2="476.50" stroke="#111" stroke-width="0.8" stroke-dasharray="6,4.5" stroke-opacity="0.82"/>
<line x1="324.50" y1="701.00" x2="324.50" y2="455.00" stroke="#111" stroke-width="0.8" stroke-dasharray="6,4.5" stroke-opacity="0.82"/>
<line x1="317.99" y1="685.29" x2="231.51" y2="476.50" stroke="#111" stroke-width="0.8" stroke-dasharray="6,4.5" stroke-opacity="0.82"/>
<line x1="312.48" y1="688.98" x2="152.67" y2="529.17" stroke="#111" stroke-width="0.8" stroke-dasharray="6,4.5" stroke-opacity="0.82"/>
<line x1="308.79" y1="694.49" x2="100.00" y2="608.01" stroke="#111" stroke-width="0.8" stroke-dasharray="6,4.5" stroke-opacity="0.82"/>
<line x1="324.50" y1="700.50" x2="78.50" y2="700.50" stroke="#111" stroke-width="0.8" stroke-dasharray="6,4.5" stroke-opacity="0.82"/>
<line x1="308.79" y1="707.51" x2="100.00" y2="793.99" stroke="#111" stroke-width="0.8" stroke-dasharray="6,4.5" stroke-opacity="0.82"/>
<line x1="312.48" y1="713.02" x2="152.67" y2="872.83" stroke="#111" stroke-width="0.8" stroke-dasharray="6,4.5" stroke-opacity="0.82"/>
<line x1="317.99" y1="716.71" x2="231.51" y2="925.50" stroke="#111" stroke-width="0.8" stroke-dasharray="6,4.5" stroke-opacity="0.82"/>
<line x1="324.50" y1="701.00" x2="324.50" y2="947.00" stroke="#111" stroke-width="0.8" stroke-dasharray="6,4.5" stroke-opacity="0.82"/>
<line x1="331.01" y1="716.71" x2="417.49" y2="925.50" stroke="#111" stroke-width="0.8" stroke-dasharray="6,4.5" stroke-opacity="0.82"/>
<line x1="336.52" y1="713.02" x2="496.33" y2="872.83" stroke="#111" stroke-width="0.8" stroke-dasharray="6,4.5" stroke-opacity="0.82"/>
<line x1="340.21" y1="707.51" x2="549.00" y2="793.99" stroke="#111" stroke-width="0.8" stroke-dasharray="6,4.5" stroke-opacity="0.82"/>
<text transform="translate(324.50,935.50) scale(1.14,1)" font-size="12.5" text-anchor="middle" font-weight="normal" fill="#fff" fill-opacity="0.75">+20%</text>
<circle cx="324.5" cy="701.0" r="183.0" fill="none" stroke="#000" stroke-width="1.9"/>
<polygon points="472.8,679.0 440.9,595.2 384.6,537.7 319.2,503.5 274.8,498.1 218.4,527.3 172.3,601.4 166.4,662.8 184.8,731.8 224.9,829.3 273.7,874.8 330.4,897.3 374.2,904.8 451.7,877.4 464.7,846.7 491.2,757.8" fill="none" stroke="#dc1018" stroke-width="1.8" stroke-linejoin="round"/>
<defs><marker id="ah" viewBox="0 0 10 10" refX="9" refY="5" markerWidth="3.6" markerHeight="3.6" orient="auto"><path d="M0,0.8 L10,5 L0,9.2 L2.5,5 z" fill="#000"/></marker></defs>
<line x1="503.80" y1="664.90" x2="472.80" y2="679.00" stroke="#000" stroke-width="1.9" marker-end="url(#ah)"/>
<line x1="474.30" y1="595.20" x2="440.90" y2="595.20" stroke="#000" stroke-width="1.9" marker-end="url(#ah)"/>
<line x1="426.20" y1="548.60" x2="384.60" y2="537.70" stroke="#000" stroke-width="1.9" marker-end="url(#ah)"/>
<line x1="350.50" y1="520.10" x2="319.20" y2="503.50" stroke="#000" stroke-width="1.9" marker-end="url(#ah)"/>
<line x1="307.30" y1="518.70" x2="274.80" y2="498.10" stroke="#000" stroke-width="1.9" marker-end="url(#ah)"/>
<line x1="226.40" y1="545.10" x2="218.40" y2="527.30" stroke="#000" stroke-width="1.9" marker-end="url(#ah)"/>
<line x1="167.90" y1="606.40" x2="172.30" y2="601.40" stroke="#000" stroke-width="1.9" marker-end="url(#ah)"/>
<line x1="143.70" y1="675.80" x2="166.40" y2="662.80" stroke="#000" stroke-width="1.9" marker-end="url(#ah)"/>
<line x1="143.70" y1="731.80" x2="184.80" y2="731.80" stroke="#000" stroke-width="1.9" marker-end="url(#ah)"/>
<line x1="176.20" y1="808.80" x2="224.90" y2="829.30" stroke="#000" stroke-width="1.9" marker-end="url(#ah)"/>
<line x1="222.80" y1="853.20" x2="273.70" y2="874.80" stroke="#000" stroke-width="1.9" marker-end="url(#ah)"/>
<line x1="289.00" y1="880.50" x2="330.40" y2="897.30" stroke="#000" stroke-width="1.9" marker-end="url(#ah)"/>
<line x1="351.40" y1="883.10" x2="374.20" y2="904.80" stroke="#000" stroke-width="1.9" marker-end="url(#ah)"/>
<line x1="441.80" y1="843.40" x2="451.70" y2="877.40" stroke="#000" stroke-width="1.9" marker-end="url(#ah)"/>
<line x1="476.50" y1="802.50" x2="464.70" y2="846.70" stroke="#000" stroke-width="1.9" marker-end="url(#ah)"/>
<line x1="504.20" y1="735.10" x2="491.20" y2="757.80" stroke="#000" stroke-width="1.9" marker-end="url(#ah)"/>
<text transform="translate(551.55,664.84) scale(1.15,1)" font-size="23.2" text-anchor="middle" font-weight="normal" fill="#000">1</text>
<text transform="translate(516.99,581.39) scale(1.15,1)" font-size="23.2" text-anchor="middle" font-weight="normal" fill="#000">2</text>
<text transform="translate(453.11,517.51) scale(1.15,1)" font-size="23.2" text-anchor="middle" font-weight="normal" fill="#000">3</text>
<text transform="translate(369.66,482.95) scale(1.15,1)" font-size="23.2" text-anchor="middle" font-weight="normal" fill="#000">4</text>
<text transform="translate(279.34,482.95) scale(1.15,1)" font-size="23.2" text-anchor="middle" font-weight="normal" fill="#000">5</text>
<text transform="translate(195.89,517.51) scale(1.15,1)" font-size="23.2" text-anchor="middle" font-weight="normal" fill="#000">6</text>
<text transform="translate(132.01,581.39) scale(1.15,1)" font-size="23.2" text-anchor="middle" font-weight="normal" fill="#000">7</text>
<text transform="translate(97.45,664.84) scale(1.15,1)" font-size="23.2" text-anchor="middle" font-weight="normal" fill="#000">8</text>
<text transform="translate(97.45,755.16) scale(1.15,1)" font-size="23.2" text-anchor="middle" font-weight="normal" fill="#000">9</text>
<text transform="translate(132.01,838.61) scale(1.15,1)" font-size="23.2" text-anchor="middle" font-weight="normal" fill="#000">10</text>
<text transform="translate(195.89,902.49) scale(1.15,1)" font-size="23.2" text-anchor="middle" font-weight="normal" fill="#000">11</text>
<text transform="translate(279.34,937.05) scale(1.15,1)" font-size="23.2" text-anchor="middle" font-weight="normal" fill="#000">12</text>
<text transform="translate(369.66,937.05) scale(1.15,1)" font-size="23.2" text-anchor="middle" font-weight="normal" fill="#000">13</text>
<text transform="translate(453.11,902.49) scale(1.15,1)" font-size="23.2" text-anchor="middle" font-weight="normal" fill="#000">14</text>
<text transform="translate(516.99,838.61) scale(1.15,1)" font-size="23.2" text-anchor="middle" font-weight="normal" fill="#000">15</text>
<text transform="translate(551.55,755.16) scale(1.15,1)" font-size="23.2" text-anchor="middle" font-weight="normal" fill="#000">16</text>
</g>
<rect x="80.50" y="457.50" width="488.00" height="487.00" fill="none" stroke="#000" stroke-width="1.3"/>
<text transform="translate(85.50,485.10)" font-size="31.5" text-anchor="start" font-weight="bold" fill="#000" textLength="39" lengthAdjust="spacingAndGlyphs">69</text>
<text transform="translate(86.50,504.50) scale(1.1,1)" font-size="23" text-anchor="start" font-weight="normal" fill="#000">R<tspan font-size="18" dy="11">f</tspan></text>
<text transform="translate(556.00,485.10)" font-size="31.5" text-anchor="end" font-weight="bold" fill="#000" textLength="38.5" lengthAdjust="spacingAndGlyphs">95</text>
<text transform="translate(552.50,504.50) scale(1.1,1)" font-size="23" text-anchor="end" font-weight="normal" fill="#000">R<tspan font-size="18" dy="11">g</tspan></text>
<text transform="translate(85.50,909.40)" font-size="24.3" text-anchor="start" font-weight="normal" fill="#000" textLength="48.5" lengthAdjust="spacingAndGlyphs">CCT</text>
<text transform="translate(85.50,940.60)" font-size="31.5" text-anchor="start" font-weight="bold" fill="#000" textLength="114.5" lengthAdjust="spacingAndGlyphs">6920 K</text>
<text transform="translate(549.00,909.40) scale(1.1,1)" font-size="24" text-anchor="end" font-weight="normal" fill="#000">D<tspan font-size="17" dy="5">uv</tspan></text>
<text transform="translate(556.00,940.60)" font-size="31.5" text-anchor="end" font-weight="bold" fill="#000" textLength="107.5" lengthAdjust="spacingAndGlyphs">0.0010</text>
<rect x="159.50" y="994.52" width="9.00" height="163.88" fill="#e8b8cc" stroke="#000" stroke-width="0.9"/>
<rect x="168.50" y="1025.37" width="9.00" height="133.03" fill="#c06080" stroke="#000" stroke-width="0.9"/>
<rect x="177.50" y="1006.09" width="9.00" height="152.31" fill="#5a3f42" stroke="#000" stroke-width="0.9"/>
<rect x="186.50" y="1016.69" width="9.00" height="141.71" fill="#cc8098" stroke="#000" stroke-width="0.9"/>
<rect x="195.50" y="1052.36" width="9.00" height="106.04" fill="#a84060" stroke="#000" stroke-width="0.9"/>
<rect x="204.50" y="1011.87" width="9.00" height="146.53" fill="#8c5c68" stroke="#000" stroke-width="0.9"/>
<rect x="213.50" y="1044.65" width="9.00" height="113.75" fill="#9a3a4c" stroke="#000" stroke-width="0.9"/>
<rect x="222.50" y="1050.43" width="9.00" height="107.97" fill="#8a3c48" stroke="#000" stroke-width="0.9"/>
<rect x="231.50" y="977.17" width="9.00" height="181.23" fill="#3c3c3c" stroke="#000" stroke-width="0.9"/>
<rect x="240.50" y="1035.01" width="9.00" height="123.39" fill="#f07870" stroke="#000" stroke-width="0.9"/>
<rect x="249.50" y="1038.86" width="9.00" height="119.54" fill="#cc5850" stroke="#000" stroke-width="0.9"/>
<rect x="258.50" y="1048.50" width="9.00" height="109.90" fill="#d06050" stroke="#000" stroke-width="0.9"/>
<rect x="267.50" y="1027.30" width="9.00" height="131.10" fill="#7c5040" stroke="#000" stroke-width="0.9"/>
<rect x="276.50" y="990.66" width="9.00" height="167.74" fill="#b8a8a0" stroke="#000" stroke-width="0.9"/>
<rect x="285.50" y="1006.09" width="9.00" height="152.31" fill="#b89888" stroke="#000" stroke-width="0.9"/>
<rect x="294.50" y="1046.58" width="9.00" height="111.82" fill="#885c48" stroke="#000" stroke-width="0.9"/>
<rect x="303.50" y="1036.94" width="9.00" height="121.46" fill="#8c6048" stroke="#000" stroke-width="0.9"/>
<rect x="312.50" y="1017.66" width="9.00" height="140.74" fill="#987460" stroke="#000" stroke-width="0.9"/>
<rect x="321.50" y="1052.36" width="9.00" height="106.04" fill="#d48850" stroke="#000" stroke-width="0.9"/>
<rect x="330.50" y="1081.28" width="9.00" height="77.12" fill="#c87c30" stroke="#000" stroke-width="0.9"/>
<rect x="339.50" y="1073.57" width="9.00" height="84.83" fill="#f4a858" stroke="#000" stroke-width="0.9"/>
<rect x="348.50" y="1069.71" width="9.00" height="88.69" fill="#e89848" stroke="#000" stroke-width="0.9"/>
<rect x="357.50" y="1009.94" width="9.00" height="148.46" fill="#f4dcc0" stroke="#000" stroke-width="0.9"/>
<rect x="366.50" y="1056.22" width="9.00" height="102.18" fill="#f8c888" stroke="#000" stroke-width="0.9"/>
<rect x="375.50" y="1085.14" width="9.00" height="73.26" fill="#d08c20" stroke="#000" stroke-width="0.9"/>
<rect x="384.50" y="1063.93" width="9.00" height="94.47" fill="#f8c060" stroke="#000" stroke-width="0.9"/>
<rect x="393.50" y="1004.16" width="9.00" height="154.24" fill="#b0a080" stroke="#000" stroke-width="0.9"/>
<rect x="402.50" y="1021.51" width="9.00" height="136.89" fill="#6c5c40" stroke="#000" stroke-width="0.9"/>
<rect x="411.50" y="1058.14" width="9.00" height="100.26" fill="#ecc058" stroke="#000" stroke-width="0.9"/>
<rect x="420.50" y="1021.51" width="9.00" height="136.89" fill="#988c60" stroke="#000" stroke-width="0.9"/>
<rect x="429.50" y="1048.50" width="9.00" height="109.90" fill="#f0cc60" stroke="#000" stroke-width="0.9"/>
<rect x="438.50" y="1065.86" width="9.00" height="92.54" fill="#d0a838" stroke="#000" stroke-width="0.9"/>
<rect x="447.50" y="1025.37" width="9.00" height="133.03" fill="#e4d890" stroke="#000" stroke-width="0.9"/>
<rect x="456.50" y="1052.36" width="9.00" height="106.04" fill="#a48c30" stroke="#000" stroke-width="0.9"/>
<rect x="465.50" y="1015.73" width="9.00" height="142.67" fill="#686038" stroke="#000" stroke-width="0.9"/>
<rect x="474.50" y="971.38" width="9.00" height="187.02" fill="#c4c4b4" stroke="#000" stroke-width="0.9"/>
<rect x="483.50" y="1033.08" width="9.00" height="125.32" fill="#787040" stroke="#000" stroke-width="0.9"/>
<rect x="492.50" y="1002.23" width="9.00" height="156.17" fill="#d4d8a0" stroke="#000" stroke-width="0.9"/>
<rect x="501.50" y="977.17" width="9.00" height="181.23" fill="#50503c" stroke="#000" stroke-width="0.9"/>
<rect x="510.50" y="992.59" width="9.00" height="165.81" fill="#707850" stroke="#000" stroke-width="0.9"/>
<rect x="519.50" y="984.88" width="9.00" height="173.52" fill="#d4d8c0" stroke="#000" stroke-width="0.9"/>
<rect x="528.50" y="1033.08" width="9.00" height="125.32" fill="#90a840" stroke="#000" stroke-width="0.9"/>
<rect x="537.50" y="1027.30" width="9.00" height="131.10" fill="#98b838" stroke="#000" stroke-width="0.9"/>
<rect x="546.50" y="967.53" width="9.00" height="190.87" fill="#3c3c3c" stroke="#000" stroke-width="0.9"/>
<rect x="555.50" y="1006.09" width="9.00" height="152.31" fill="#70984c" stroke="#000" stroke-width="0.9"/>
<rect x="564.50" y="1002.23" width="9.00" height="156.17" fill="#88a870" stroke="#000" stroke-width="0.9"/>
<rect x="573.50" y="998.38" width="9.00" height="160.02" fill="#98b088" stroke="#000" stroke-width="0.9"/>
<rect x="582.50" y="1011.87" width="9.00" height="146.53" fill="#98c890" stroke="#000" stroke-width="0.9"/>
<rect x="591.50" y="1004.16" width="9.00" height="154.24" fill="#4c7c48" stroke="#000" stroke-width="0.9"/>
<rect x="600.50" y="989.70" width="9.00" height="168.70" fill="#5c9068" stroke="#000" stroke-width="0.9"/>
<rect x="609.50" y="987.77" width="9.00" height="170.63" fill="#689878" stroke="#000" stroke-width="0.9"/>
<rect x="618.50" y="987.77" width="9.00" height="170.63" fill="#3c7048" stroke="#000" stroke-width="0.9"/>
<rect x="627.50" y="1012.84" width="9.00" height="145.56" fill="#0c8c60" stroke="#000" stroke-width="0.9"/>
<rect x="636.50" y="1000.30" width="9.00" height="158.10" fill="#b8d8cc" stroke="#000" stroke-width="0.9"/>
<rect x="645.50" y="1004.16" width="9.00" height="154.24" fill="#a8d4c4" stroke="#000" stroke-width="0.9"/>
<rect x="654.50" y="1025.37" width="9.00" height="133.03" fill="#48c0a0" stroke="#000" stroke-width="0.9"/>
<rect x="663.50" y="1027.30" width="9.00" height="131.10" fill="#10a080" stroke="#000" stroke-width="0.9"/>
<rect x="672.50" y="1027.30" width="9.00" height="131.10" fill="#189080" stroke="#000" stroke-width="0.9"/>
<rect x="681.50" y="994.52" width="9.00" height="163.88" fill="#b4d8d0" stroke="#000" stroke-width="0.9"/>
<rect x="690.50" y="989.70" width="9.00" height="168.70" fill="#ccd8d4" stroke="#000" stroke-width="0.9"/>
<rect x="699.50" y="1000.30" width="9.00" height="158.10" fill="#a0c4bc" stroke="#000" stroke-width="0.9"/>
<rect x="708.50" y="1002.23" width="9.00" height="156.17" fill="#98a8a4" stroke="#000" stroke-width="0.9"/>
<rect x="717.50" y="1021.51" width="9.00" height="136.89" fill="#484c4c" stroke="#000" stroke-width="0.9"/>
<rect x="726.50" y="1042.72" width="9.00" height="115.68" fill="#10a0a0" stroke="#000" stroke-width="0.9"/>
<rect x="735.50" y="1050.43" width="9.00" height="107.97" fill="#3c7070" stroke="#000" stroke-width="0.9"/>
<rect x="744.50" y="1062.00" width="9.00" height="96.40" fill="#147880" stroke="#000" stroke-width="0.9"/>
<rect x="753.50" y="1069.71" width="9.00" height="88.69" fill="#108090" stroke="#000" stroke-width="0.9"/>
<rect x="762.50" y="1046.58" width="9.00" height="111.82" fill="#6898a8" stroke="#000" stroke-width="0.9"/>
<rect x="771.50" y="1027.30" width="9.00" height="131.10" fill="#687c84" stroke="#000" stroke-width="0.9"/>
<rect x="780.50" y="1073.57" width="9.00" height="84.83" fill="#78b4d8" stroke="#000" stroke-width="0.9"/>
<rect x="789.50" y="1088.99" width="9.00" height="69.41" fill="#1c5c78" stroke="#000" stroke-width="0.9"/>
<rect x="798.50" y="1008.02" width="9.00" height="150.38" fill="#a8b4b8" stroke="#000" stroke-width="0.9"/>
<rect x="807.50" y="1096.70" width="9.00" height="61.70" fill="#2c90c0" stroke="#000" stroke-width="0.9"/>
<rect x="816.50" y="986.81" width="9.00" height="171.59" fill="#3c3c40" stroke="#000" stroke-width="0.9"/>
<rect x="825.50" y="1090.92" width="9.00" height="67.48" fill="#1c4868" stroke="#000" stroke-width="0.9"/>
<rect x="834.50" y="1100.56" width="9.00" height="57.84" fill="#2c80b8" stroke="#000" stroke-width="0.9"/>
<rect x="843.50" y="1062.00" width="9.00" height="96.40" fill="#447098" stroke="#000" stroke-width="0.9"/>
<rect x="852.50" y="1092.85" width="9.00" height="65.55" fill="#2c68a8" stroke="#000" stroke-width="0.9"/>
<rect x="861.50" y="1031.15" width="9.00" height="127.25" fill="#98b0d8" stroke="#000" stroke-width="0.9"/>
<rect x="870.50" y="1038.86" width="9.00" height="119.54" fill="#8c98cc" stroke="#000" stroke-width="0.9"/>
<rect x="879.50" y="1033.08" width="9.00" height="125.32" fill="#5c64a4" stroke="#000" stroke-width="0.9"/>
<rect x="888.50" y="994.52" width="9.00" height="163.88" fill="#d4d4e8" stroke="#000" stroke-width="0.9"/>
<rect x="897.50" y="1002.23" width="9.00" height="156.17" fill="#b0a8d0" stroke="#000" stroke-width="0.9"/>
<rect x="906.50" y="1002.23" width="9.00" height="156.17" fill="#40404c" stroke="#000" stroke-width="0.9"/>
<rect x="915.50" y="1016.69" width="9.00" height="141.71" fill="#5c5c78" stroke="#000" stroke-width="0.9"/>
<rect x="924.50" y="1011.87" width="9.00" height="146.53" fill="#9c90c8" stroke="#000" stroke-width="0.9"/>
<rect x="933.50" y="1023.44" width="9.00" height="134.96" fill="#6c5494" stroke="#000" stroke-width="0.9"/>
<rect x="942.50" y="1009.94" width="9.00" height="148.46" fill="#a080b8" stroke="#000" stroke-width="0.9"/>
<rect x="951.50" y="1011.87" width="9.00" height="146.53" fill="#64447c" stroke="#000" stroke-width="0.9"/>
<rect x="960.50" y="1009.94" width="9.00" height="148.46" fill="#7c5088" stroke="#000" stroke-width="0.9"/>
<rect x="969.50" y="1011.87" width="9.00" height="146.53" fill="#c4c0c8" stroke="#000" stroke-width="0.9"/>
<rect x="978.50" y="1029.22" width="9.00" height="129.18" fill="#887890" stroke="#000" stroke-width="0.9"/>
<rect x="987.50" y="1006.09" width="9.00" height="152.31" fill="#b098ac" stroke="#000" stroke-width="0.9"/>
<rect x="996.50" y="1041.76" width="9.00" height="116.64" fill="#6c4868" stroke="#000" stroke-width="0.9"/>
<rect x="1005.50" y="1027.30" width="9.00" height="131.10" fill="#c094b0" stroke="#000" stroke-width="0.9"/>
<rect x="1014.50" y="1009.94" width="9.00" height="148.46" fill="#d4a8c4" stroke="#000" stroke-width="0.9"/>
<rect x="1023.50" y="998.38" width="9.00" height="160.02" fill="#9c5880" stroke="#000" stroke-width="0.9"/>
<rect x="1032.50" y="1021.51" width="9.00" height="136.89" fill="#c86c98" stroke="#000" stroke-width="0.9"/>
<rect x="1041.50" y="1041.76" width="9.00" height="116.64" fill="#a84c78" stroke="#000" stroke-width="0.9"/>
<rect x="159.50" y="965.60" width="891.00" height="192.80" fill="none" stroke="#000" stroke-width="1.2"/>
<line x1="154.00" y1="1158.40" x2="159.50" y2="1158.40" stroke="#000" stroke-width="1"/>
<text transform="translate(147.20,1164.00) scale(1.14,1)" font-size="15.6" text-anchor="end" font-weight="normal" fill="#000">0</text>
<line x1="154.00" y1="1139.12" x2="159.50" y2="1139.12" stroke="#000" stroke-width="1"/>
<text transform="translate(147.20,1144.72) scale(1.14,1)" font-size="15.6" text-anchor="end" font-weight="normal" fill="#000">10</text>
<line x1="154.00" y1="1119.84" x2="159.50" y2="1119.84" stroke="#000" stroke-width="1"/>
<text transform="translate(147.20,1125.44) scale(1.14,1)" font-size="15.6" text-anchor="end" font-weight="normal" fill="#000">20</text>
<line x1="154.00" y1="1100.56" x2="159.50" y2="1100.56" stroke="#000" stroke-width="1"/>
<text transform="translate(147.20,1106.16) scale(1.14,1)" font-size="15.6" text-anchor="end" font-weight="normal" fill="#000">30</text>
<line x1="154.00" y1="1081.28" x2="159.50" y2="1081.28" stroke="#000" stroke-width="1"/>
<text transform="translate(147.20,1086.88) scale(1.14,1)" font-size="15.6" text-anchor="end" font-weight="normal" fill="#000">40</text>
<line x1="154.00" y1="1062.00" x2="159.50" y2="1062.00" stroke="#000" stroke-width="1"/>
<text transform="translate(147.20,1067.60) scale(1.14,1)" font-size="15.6" text-anchor="end" font-weight="normal" fill="#000">50</text>
<line x1="154.00" y1="1042.72" x2="159.50" y2="1042.72" stroke="#000" stroke-width="1"/>
<text transform="translate(147.20,1048.32) scale(1.14,1)" font-size="15.6" text-anchor="end" font-weight="normal" fill="#000">60</text>
<line x1="154.00" y1="1023.44" x2="159.50" y2="1023.44" stroke="#000" stroke-width="1"/>
<text transform="translate(147.20,1029.04) scale(1.14,1)" font-size="15.6" text-anchor="end" font-weight="normal" fill="#000">70</text>
<line x1="154.00" y1="1004.16" x2="159.50" y2="1004.16" stroke="#000" stroke-width="1"/>
<text transform="translate(147.20,1009.76) scale(1.14,1)" font-size="15.6" text-anchor="end" font-weight="normal" fill="#000">80</text>
<line x1="154.00" y1="984.88" x2="159.50" y2="984.88" stroke="#000" stroke-width="1"/>
<text transform="translate(147.20,990.48) scale(1.14,1)" font-size="15.6" text-anchor="end" font-weight="normal" fill="#000">90</text>
<line x1="154.00" y1="965.60" x2="159.50" y2="965.60" stroke="#000" stroke-width="1"/>
<text transform="translate(147.20,971.20) scale(1.14,1)" font-size="15.6" text-anchor="end" font-weight="normal" fill="#000">100</text>
<text transform="translate(164.00,1178.40) scale(1.14,1)" font-size="15.6" text-anchor="middle" font-weight="normal" fill="#000">1</text>
<text transform="translate(200.00,1178.40) scale(1.14,1)" font-size="15.6" text-anchor="middle" font-weight="normal" fill="#000">5</text>
<text transform="translate(236.00,1178.40) scale(1.14,1)" font-size="15.6" text-anchor="middle" font-weight="normal" fill="#000">9</text>
<text transform="translate(272.00,1178.40) scale(1.14,1)" font-size="15.6" text-anchor="middle" font-weight="normal" fill="#000">13</text>
<text transform="translate(308.00,1178.40) scale(1.14,1)" font-size="15.6" text-anchor="middle" font-weight="normal" fill="#000">17</text>
<text transform="translate(344.00,1178.40) scale(1.14,1)" font-size="15.6" text-anchor="middle" font-weight="normal" fill="#000">21</text>
<text transform="translate(380.00,1178.40) scale(1.14,1)" font-size="15.6" text-anchor="middle" font-weight="normal" fill="#000">25</text>
<text transform="translate(416.00,1178.40) scale(1.14,1)" font-size="15.6" text-anchor="middle" font-weight="normal" fill="#000">29</text>
<text transform="translate(452.00,1178.40) scale(1.14,1)" font-size="15.6" text-anchor="middle" font-weight="normal" fill="#000">33</text>
<text transform="translate(488.00,1178.40) scale(1.14,1)" font-size="15.6" text-anchor="middle" font-weight="normal" fill="#000">37</text>
<text transform="translate(524.00,1178.40) scale(1.14,1)" font-size="15.6" text-anchor="middle" font-weight="normal" fill="#000">41</text>
<text transform="translate(560.00,1178.40) scale(1.14,1)" font-size="15.6" text-anchor="middle" font-weight="normal" fill="#000">45</text>
<text transform="translate(596.00,1178.40) scale(1.14,1)" font-size="15.6" text-anchor="middle" font-weight="normal" fill="#000">49</text>
<text transform="translate(632.00,1178.40) scale(1.14,1)" font-size="15.6" text-anchor="middle" font-weight="normal" fill="#000">53</text>
<text transform="translate(668.00,1178.40) scale(1.14,1)" font-size="15.6" text-anchor="middle" font-weight="normal" fill="#000">57</text>
<text transform="translate(704.00,1178.40) scale(1.14,1)" font-size="15.6" text-anchor="middle" font-weight="normal" fill="#000">61</text>
<text transform="translate(740.00,1178.40) scale(1.14,1)" font-size="15.6" text-anchor="middle" font-weight="normal" fill="#000">65</text>
<text transform="translate(776.00,1178.40) scale(1.14,1)" font-size="15.6" text-anchor="middle" font-weight="normal" fill="#000">69</text>
<text transform="translate(812.00,1178.40) scale(1.14,1)" font-size="15.6" text-anchor="middle" font-weight="normal" fill="#000">73</text>
<text transform="translate(848.00,1178.40) scale(1.14,1)" font-size="15.6" text-anchor="middle" font-weight="normal" fill="#000">77</text>
<text transform="translate(884.00,1178.40) scale(1.14,1)" font-size="15.6" text-anchor="middle" font-weight="normal" fill="#000">81</text>
<text transform="translate(920.00,1178.40) scale(1.14,1)" font-size="15.6" text-anchor="middle" font-weight="normal" fill="#000">85</text>
<text transform="translate(956.00,1178.40) scale(1.14,1)" font-size="15.6" text-anchor="middle" font-weight="normal" fill="#000">89</text>
<text transform="translate(992.00,1178.40) scale(1.14,1)" font-size="15.6" text-anchor="middle" font-weight="normal" fill="#000">93</text>
<text transform="translate(1028.00,1178.40) scale(1.14,1)" font-size="15.6" text-anchor="middle" font-weight="normal" fill="#000">97</text>
<text transform="translate(604.50,1199.00)" font-size="16.7" text-anchor="middle" font-weight="normal" fill="#000" textLength="79" lengthAdjust="spacingAndGlyphs">CES Color</text>
<text transform="translate(99.00,1069.50) rotate(-90)" font-size="16.7" text-anchor="middle" font-weight="normal" fill="#000" textLength="227" lengthAdjust="spacingAndGlyphs">Color Sample Fidelity, R<tspan font-size="12.7" dy="6.0">f,CESi</tspan></text>
<rect x="145.00" y="1216.00" width="455.00" height="207.50" fill="#e6e6e6" stroke="none" stroke-width="1"/>
<text transform="translate(90.50,1231.00)" font-size="16.7" text-anchor="start" font-weight="bold" fill="#000" textLength="56" lengthAdjust="spacingAndGlyphs">Notes:</text>
<text transform="translate(155.00,1236.00)" font-size="16.7" text-anchor="start" font-weight="normal" fill="#000" textLength="97" lengthAdjust="spacingAndGlyphs">Spot Level 5</text>
<rect x="771.50" y="1216.50" width="198.00" height="207.50" fill="none" stroke="#000" stroke-width="1.2"/>
<text transform="translate(640.50,1250.50) scale(1.1,1)" font-size="16" text-anchor="start" font-weight="bold" fill="#000">x</text>
<text transform="translate(732.00,1250.50)" font-size="16" text-anchor="end" font-weight="bold" fill="#000" textLength="58" lengthAdjust="spacingAndGlyphs">0.3071</text>
<text transform="translate(640.50,1280.50) scale(1.1,1)" font-size="16" text-anchor="start" font-weight="bold" fill="#000">y</text>
<text transform="translate(732.00,1280.50)" font-size="16" text-anchor="end" font-weight="bold" fill="#000" textLength="58" lengthAdjust="spacingAndGlyphs">0.3192</text>
<text transform="translate(640.50,1310.50) scale(1.1,1)" font-size="16" text-anchor="start" font-weight="bold" fill="#000">u'</text>
<text transform="translate(732.00,1310.50)" font-size="16" text-anchor="end" font-weight="bold" fill="#000" textLength="58" lengthAdjust="spacingAndGlyphs">0.1976</text>
<text transform="translate(640.50,1340.50) scale(1.1,1)" font-size="16" text-anchor="start" font-weight="bold" fill="#000">v'</text>
<text transform="translate(732.00,1340.50)" font-size="16" text-anchor="end" font-weight="bold" fill="#000" textLength="58" lengthAdjust="spacingAndGlyphs">0.4622</text>
<text transform="translate(870.00,1245.50)" font-size="16" text-anchor="middle" font-weight="bold" fill="#000" textLength="125" lengthAdjust="spacingAndGlyphs">CIE 13.3-1995</text>
<text transform="translate(870.00,1275.50)" font-size="16" text-anchor="middle" font-weight="bold" fill="#000" textLength="41" lengthAdjust="spacingAndGlyphs">(CRI)</text>
<text transform="translate(841.00,1305.50) scale(1.08,1)" font-size="16" text-anchor="start" font-weight="bold" fill="#000">R<tspan font-size="11.5" dy="6">a</tspan></text>
<text transform="translate(900.00,1305.50)" font-size="16" text-anchor="end" font-weight="bold" fill="#000" textLength="22" lengthAdjust="spacingAndGlyphs">69</text>
<text transform="translate(835.50,1335.50) scale(1.08,1)" font-size="16" text-anchor="start" font-weight="bold" fill="#000">R<tspan font-size="11.5" dy="6">9</tspan></text>
<text transform="translate(906.00,1335.50)" font-size="16" text-anchor="end" font-weight="bold" fill="#000" textLength="32" lengthAdjust="spacingAndGlyphs">-29</text>
<text transform="translate(600.50,1449.00)" font-size="16.7" text-anchor="middle" font-weight="bold" fill="#000" textLength="423" lengthAdjust="spacingAndGlyphs">Colors are for visual orientation purposes only.</text>
<g opacity="0.9">
<polygon points="811.1,375.2 933.1,414.0 925.3,484.4 812.2,515.6 700.2,484.4 688.2,414.0" fill="#f2ecd4" stroke="#f2ecd4" stroke-width="1.6" stroke-linejoin="round" fill-opacity="0.92" stroke-opacity="0.6"/>
<polygon points="811.1,380.0 929.2,415.9 922.3,481.8 812.2,511.3 703.2,481.8 692.6,415.9" fill="#3d5b74" stroke="#3d5b74" stroke-width="2" stroke-linejoin="round"/>
<path d="M792.9,387.0 L831.5,387.0 L831.5,393.4 L822.5,393.4 L831.9,407.3 L831.9,411.8 L792.1,411.8 L792.1,407.3 L802.3,393.4 L792.9,393.4 Z M811.8,396.2 L818.6,404.8 L805.4,404.8 Z" fill="#f0823f" fill-rule="evenodd"/>
<polygon points="784.3,424.9 800.8,415.9 803.6,415.9 794.8,424.9" fill="#f9cc53"/>
<polygon points="807.9,424.9 809.8,416.0 813.9,416.0 815.8,424.9" fill="#f9cc53"/>
<polygon points="819.7,416.0 822.7,415.9 840.1,424.9 830.0,424.9" fill="#f9cc53"/>
<polygon points="705.6,465.3 756.3,465.3 737.4,485.3 708.6,477.0" fill="#f9cc53"/>
<polygon points="794.8,465.3 829.5,465.3 841.4,502.6 784.0,500.0" fill="#f9cc53"/>
<polygon points="870.2,465.3 919.9,465.3 916.8,477.5 889.1,485.3" fill="#f9cc53"/>
<text transform="translate(703.8,458.8)" font-size="37.5" font-weight="bold" fill="#f0823f" stroke="#f0823f" stroke-width="1.8" textLength="205" lengthAdjust="spacingAndGlyphs">ZEROAIR</text>
<text transform="translate(912.7,432.4) rotate(90)" font-size="10.5" font-weight="bold" fill="#f0823f" stroke="#f0823f" stroke-width="0.8" textLength="26.5" lengthAdjust="spacingAndGlyphs">ORG</text>
</g>
</svg>
</body></html>
